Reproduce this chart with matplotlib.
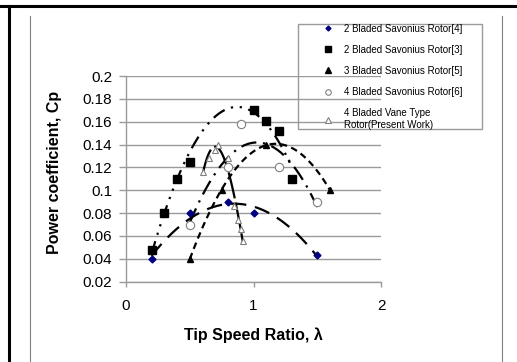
import numpy as np
import matplotlib
matplotlib.use("Agg")
import matplotlib.pyplot as plt
from matplotlib.lines import Line2D
from matplotlib.patches import Rectangle

plt.rcParams['font.family'] = ['Liberation Sans', 'DejaVu Sans']

# data
labels = ['2 Bladed Savonius Rotor[4]', '2 Bladed Savonius Rotor[3]',
          '3 Bladed Savonius Rotor[5]', '4 Bladed Savonius Rotor[6]',
          '4 Bladed Vane Type\nRotor(Present Work)']

x_s4 = [0.2, 0.5, 0.8, 1.0, 1.5]
y_s4 = [0.04, 0.08, 0.09, 0.08, 0.0435]

x_s3 = [0.2, 0.3, 0.4, 0.5, 1.0, 1.1, 1.2, 1.3]
y_s3 = [0.048, 0.08, 0.11, 0.125, 0.17, 0.161, 0.152, 0.11]

x_s5 = [0.5, 0.75, 1.1, 1.6]
y_s5 = [0.04, 0.1, 0.14, 0.1]

x_s6 = [0.5, 0.8, 0.9, 1.2, 1.5]
y_s6 = [0.07, 0.12, 0.158, 0.12, 0.09]

x_vane = [0.6, 0.65, 0.7, 0.72, 0.8, 0.85, 0.88, 0.9, 0.92]
y_vane = [0.116, 0.128, 0.135, 0.14, 0.128, 0.086, 0.074, 0.066, 0.056]

xticks = [0, 1, 2]
yticks = [0.02, 0.04, 0.06, 0.08, 0.1, 0.12, 0.14, 0.16, 0.18, 0.2]
ytick_labels = ['0.02', '0.04', '0.06', '0.08', '0.1', '0.12', '0.14', '0.16', '0.18', '0.2']

fig = plt.figure(figsize=(5.17, 3.62), dpi=100)
ax = fig.add_axes([126 / 517, 1 - 281.7 / 362, 255 / 517, 205.7 / 362])

grey = '#9a9a9a'


def trend(xs, ys, deg, ls):
    c = np.polyfit(xs, ys, deg)
    xx = np.linspace(min(xs), max(xs), 200)
    ax.plot(xx, np.polyval(c, xx), color='black', lw=1.6, linestyle=ls, zorder=3)


trend(x_s4, y_s4, 2, (0, (7, 4)))
trend(x_s3, y_s3, 2, (0, (6, 3, 1, 3, 1, 3)))
trend(x_s5, y_s5, 2, (0, (3, 2)))
trend(x_s6, y_s6, 2, (0, (7, 3, 1, 3)))
trend(x_vane, y_vane, 3, (0, (12, 2)))

ax.plot(x_s4, y_s4, 'D', color='#000080', ms=3.5, ls='none', zorder=4)
ax.plot(x_s3, y_s3, 's', color='black', ms=6, ls='none', zorder=4)
ax.plot(x_s5, y_s5, '^', color='black', ms=5, ls='none', zorder=4)
ax.plot(x_s6, y_s6, 'o', mfc='white', mec='#808080', mew=0.8, ms=6, ls='none', zorder=4)
ax.plot(x_vane, y_vane, '^', mfc='white', mec='#808080', mew=0.8, ms=5, ls='none', zorder=4)

ax.set_xlim(0, 2)
ax.set_ylim(0.02, 0.2)
ax.set_xticks(xticks)
ax.set_yticks(yticks)
ax.set_yticklabels(ytick_labels)
for sp in ['top', 'right']:
    ax.spines[sp].set_visible(False)
for sp in ['left', 'bottom']:
    ax.spines[sp].set_color(grey)
    ax.spines[sp].set_linewidth(1)
ax.grid(axis='y', color=grey, lw=1)
ax.set_axisbelow(True)
ax.tick_params(axis='y', direction='out', length=4.8, width=1, color=grey, pad=5, labelsize=11)
ax.tick_params(axis='x', direction='out', length=3.6, width=1, color=grey, pad=8.5, labelsize=11)

fig.text(253 / 517, 1 - 335 / 362, 'Tip Speed Ratio, λ', ha='center', va='center',
         fontsize=11.5, fontweight='bold')
fig.text(55 / 517, 1 - 172.5 / 362, 'Power coefficient, Cp', ha='center', va='center',
         rotation=90, fontsize=11.5, fontweight='bold')

handles = [
    Line2D([], [], marker='D', color='#000080', ms=2.5, ls='none'),
    Line2D([], [], marker='s', color='black', ms=4, ls='none'),
    Line2D([], [], marker='^', color='black', ms=4, ls='none'),
    Line2D([], [], marker='o', mfc='white', mec='#808080', mew=0.8, ms=4, ls='none'),
    Line2D([], [], marker='^', mfc='white', mec='#808080', mew=0.8, ms=4, ls='none'),
]
leg = fig.legend(handles, labels, loc='upper left',
                 bbox_to_anchor=(323.2 / 517, 1 - 23.5 / 362),
                 fontsize=7, frameon=False, labelspacing=1.15, handletextpad=1.15,
                 borderpad=0, handlelength=1.0, borderaxespad=0)
fig.add_artist(Rectangle((297.7 / 517, 1 - 129 / 362), 183.8 / 517, 105 / 362,
                         transform=fig.transFigure, fill=False, edgecolor=grey, lw=1))

# page frame of the document screenshot
fig.add_artist(Line2D([0, 1], [1 - 5.5 / 362, 1 - 5.5 / 362], color='black', lw=2.2))
fig.add_artist(Line2D([8.5 / 517, 8.5 / 517], [0, 1 - 5.5 / 362], color='black', lw=2.2))
fig.add_artist(Line2D([29.5 / 517, 29.5 / 517], [0, 1 - 16 / 362], color='#808080', lw=0.8))
fig.add_artist(Line2D([502 / 517, 502 / 517], [0, 1 - 16 / 362], color='#808080', lw=0.8))

fig.savefig('out.png', dpi=100)
